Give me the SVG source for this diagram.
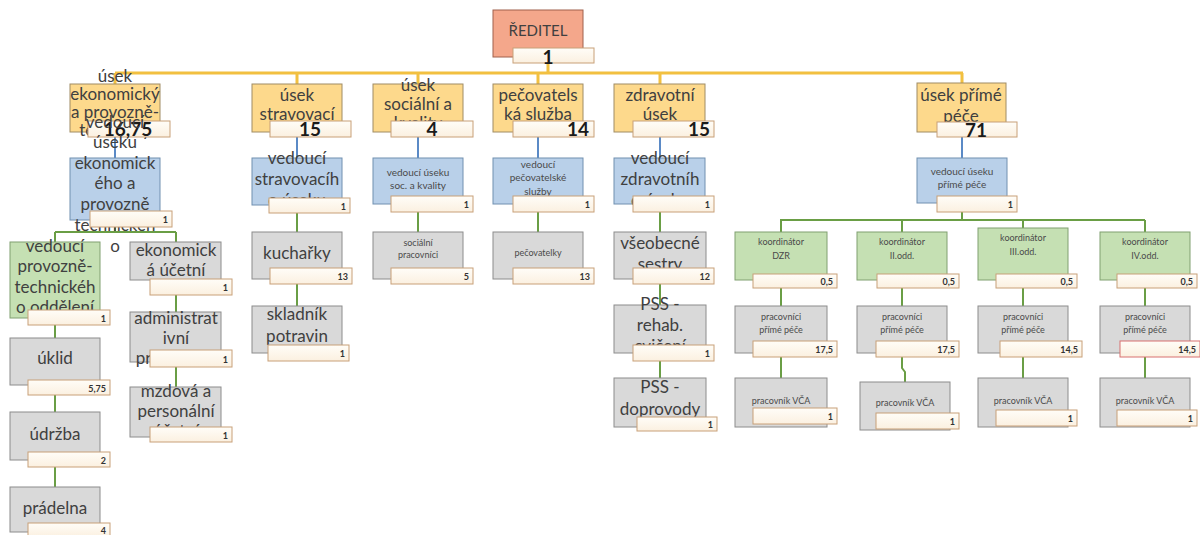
<svg xmlns="http://www.w3.org/2000/svg" width="1200" height="535" viewBox="0 0 1200 535">
<defs>
<linearGradient id="cg" x1="0" y1="0" x2="0" y2="1">
<stop offset="0" stop-color="#fffdf8"/>
<stop offset="1" stop-color="#fbf0e0"/>
</linearGradient>
<style>
.y{fill:#fdd98c;stroke:#a08c64;stroke-width:1}
.r{fill:#f4a78b;stroke:#a0604c;stroke-width:1}
.b{fill:#b9d0e9;stroke:#7090b0;stroke-width:1}
.g{fill:#c5e0b3;stroke:#80a070;stroke-width:1}
.n{fill:#d9d9d9;stroke:#8c8c8c;stroke-width:1}
.c{fill:url(#cg);stroke:#c8a078;stroke-width:1}
text{font-family:Lato,"DejaVu Sans",sans-serif;fill:#404040;text-anchor:middle}
.t{font-size:17px}
.s{font-size:10px;fill:#4a4a4a}
.num{font-size:19px;font-weight:bold;fill:#1a1a1a}
.cn{font-size:9px;font-weight:bold;text-anchor:end;fill:#333}
.gold{stroke:#f2c040;stroke-width:3;fill:none}
.blue{stroke:#5b8ac6;stroke-width:2;fill:none}
.green{stroke:#6a9e45;stroke-width:2;fill:none}
</style>
</defs>
<rect width="1200" height="535" fill="#ffffff"/>

<g id="connectors">
<path class="gold" d="M548 63V73M115 73H963M115 73V84M297 73V84M418 73V84M538 73V84M660 73V84M962 73V84"/>
<path class="blue" d="M115 137V158M297 137V158M418 137V158M538 137V158M660 137V158M962 137V158"/>
<path class="green" d="M115 227V232M55 232H176M55 232V242M176 232V242M55 325V338M55 395V412M55 467V487M176 295V312M176 367V387"/>
<path class="green" d="M297 213V232M297 284V306M418 212V232M538 212V232M660 212V232M660 284V305M660 361V378"/>
<path class="green" d="M962 212V220M780 220H1145M781 220V232M902 220V232M1023 220V228M1145 220V232"/>
<path class="green" d="M781 288V306M902 288V306M1023 288V306M1145 288V306"/>
<path class="green" d="M781 357V378M902 357V368L905 372V382M1023 357V378M1145 357V378"/>
</g>

<g id="reditel">
<rect class="r" x="493" y="10" width="90" height="47"/>
<text class="t" x="538" y="36" style="font-size:15px">ŘEDITEL</text>
<rect class="c" x="513" y="48" width="81" height="15"/>
<text class="num" x="548" y="64">1</text>
</g>

<g id="usek-ekonomicky">
<rect class="y" x="70" y="84" width="90" height="48"/>
<text class="t" x="115" y="82">úsek</text>
<text class="t" x="115" y="100">ekonomický</text>
<text class="t" x="115" y="118">a provozně-</text>
<text class="t" x="115" y="136">technický</text>
<rect class="c" x="88" y="121" width="82" height="16"/>
<text class="num" x="128" y="136">16,75</text>
</g>
<g id="vedouci-ekonomicky">
<rect class="b" x="70" y="158" width="90" height="62"/>
<text class="t" x="115" y="128">vedoucí</text>
<text class="t" x="115" y="148">úseku</text>
<text class="t" x="115" y="169">ekonomick</text>
<text class="t" x="115" y="189">ého a</text>
<text class="t" x="115" y="210">provozně</text>
<text class="t" x="115" y="231">technickéh</text>
<text class="t" x="115" y="252">o</text>
<rect class="c" x="90" y="211" width="82" height="16"/>
<text class="cn" x="168" y="223">1</text>
</g>
<g id="vedouci-provozne-technickeho">
<rect class="g" x="10" y="242" width="90" height="76"/>
<text class="t" x="55" y="252">vedoucí</text>
<text class="t" x="55" y="272">provozně-</text>
<text class="t" x="55" y="293">technickéh</text>
<text class="t" x="55" y="313">o oddělení</text>
<rect class="c" x="28" y="310" width="82" height="15"/>
<text class="cn" x="106" y="322">1</text>
</g>
<g id="uklid">
<rect class="n" x="10" y="338" width="90" height="47"/>
<text class="t" x="55" y="364">úklid</text>
<rect class="c" x="28" y="380" width="82" height="15"/>
<text class="cn" x="106" y="392">5,75</text>
</g>
<g id="udrzba">
<rect class="n" x="10" y="412" width="90" height="48"/>
<text class="t" x="55" y="440">údržba</text>
<rect class="c" x="28" y="452" width="82" height="15"/>
<text class="cn" x="106" y="464">2</text>
</g>
<g id="pradelna">
<rect class="n" x="10" y="487" width="90" height="45"/>
<text class="t" x="55" y="514">prádelna</text>
<rect class="c" x="28" y="523" width="82" height="14"/>
<text class="cn" x="106" y="534">4</text>
</g>
<g id="ekonomicka-ucetni">
<rect class="n" x="130" y="242" width="91" height="38"/>
<text class="t" x="176" y="256">ekonomick</text>
<text class="t" x="176" y="276">á účetní</text>
<rect class="c" x="150" y="279" width="82" height="16"/>
<text class="cn" x="228" y="291">1</text>
</g>
<g id="administrativni-pracovnice">
<rect class="n" x="130" y="312" width="91" height="50"/>
<text class="t" x="176" y="324">administrat</text>
<text class="t" x="176" y="344">ivní</text>
<text class="t" x="176" y="364">pracovnice</text>
<rect class="c" x="150" y="350" width="82" height="17"/>
<text class="cn" x="228" y="363">1</text>
</g>
<g id="mzdova-personalni">
<rect class="n" x="130" y="387" width="91" height="50"/>
<text class="t" x="176" y="397">mzdová a</text>
<text class="t" x="176" y="417">personální</text>
<text class="t" x="176" y="437">účetní</text>
<rect class="c" x="150" y="427" width="82" height="15"/>
<text class="cn" x="228" y="439">1</text>
</g>

<g id="usek-stravovaci">
<rect class="y" x="252" y="84" width="90" height="48"/>
<text class="t" x="297" y="101">úsek</text>
<text class="t" x="297" y="120">stravovací</text>
<rect class="c" x="270" y="121" width="81" height="16"/>
<text class="num" x="310" y="136">15</text>
</g>
<g id="vedouci-stravovaciho">
<rect class="b" x="252" y="158" width="90" height="47"/>
<text class="t" x="297" y="164">vedoucí</text>
<text class="t" x="297" y="185">stravovacíh</text>
<text class="t" x="297" y="206">o úseku</text>
<rect class="c" x="269" y="198" width="81" height="15"/>
<text class="cn" x="346" y="210">1</text>
</g>
<g id="kucharky">
<rect class="n" x="252" y="232" width="90" height="47"/>
<text class="t" x="297" y="259">kuchařky</text>
<rect class="c" x="270" y="268" width="82" height="16"/>
<text class="cn" x="348" y="280">13</text>
</g>
<g id="skladnik">
<rect class="n" x="252" y="306" width="90" height="47"/>
<text class="t" x="297" y="320">skladník</text>
<text class="t" x="297" y="342">potravin</text>
<rect class="c" x="268" y="345" width="81" height="16"/>
<text class="cn" x="345" y="357">1</text>
</g>

<g id="usek-socialni">
<rect class="y" x="373" y="84" width="90" height="48"/>
<text class="t" x="418" y="91">úsek</text>
<text class="t" x="418" y="110">sociální a</text>
<text class="t" x="418" y="129">kvality</text>
<rect class="c" x="391" y="121" width="82" height="16"/>
<text class="num" x="432" y="136">4</text>
</g>
<g id="vedouci-socialni">
<rect class="b" x="373" y="158" width="90" height="46"/>
<text class="s" x="418" y="176">vedoucí úseku</text>
<text class="s" x="418" y="189">soc. a kvality</text>
<rect class="c" x="391" y="196" width="82" height="16"/>
<text class="cn" x="469" y="208">1</text>
</g>
<g id="socialni-pracovnici">
<rect class="n" x="373" y="232" width="90" height="47"/>
<text class="s" x="418" y="246" style="font-size:9px">sociální</text>
<text class="s" x="418" y="258" style="font-size:9px">pracovníci</text>
<rect class="c" x="391" y="268" width="82" height="16"/>
<text class="cn" x="469" y="280">5</text>
</g>

<g id="pecovatelska-sluzba">
<rect class="y" x="493" y="84" width="90" height="48"/>
<text class="t" x="538" y="101">pečovatels</text>
<text class="t" x="538" y="120">ká služba</text>
<rect class="c" x="513" y="121" width="81" height="16"/>
<text class="num" x="578" y="136">14</text>
</g>
<g id="vedouci-pecovatelske">
<rect class="b" x="493" y="158" width="90" height="46"/>
<text class="s" x="538" y="168">vedoucí</text>
<text class="s" x="538" y="181">pečovatelské</text>
<text class="s" x="538" y="195">služby</text>
<rect class="c" x="513" y="196" width="81" height="16"/>
<text class="cn" x="590" y="208">1</text>
</g>
<g id="pecovatelky">
<rect class="n" x="493" y="232" width="90" height="47"/>
<text class="s" x="538" y="256" style="font-size:9px">pečovatelky</text>
<rect class="c" x="513" y="268" width="81" height="16"/>
<text class="cn" x="590" y="280">13</text>
</g>

<g id="zdravotni-usek">
<rect class="y" x="614" y="84" width="91" height="48"/>
<text class="t" x="660" y="101">zdravotní</text>
<text class="t" x="660" y="120">úsek</text>
<rect class="c" x="633" y="121" width="81" height="16"/>
<text class="num" x="699" y="136">15</text>
</g>
<g id="vedouci-zdravotniho">
<rect class="b" x="614" y="158" width="91" height="46"/>
<text class="t" x="660" y="164">vedoucí</text>
<text class="t" x="660" y="185">zdravotníh</text>
<text class="t" x="660" y="206">o úseku</text>
<rect class="c" x="633" y="196" width="81" height="16"/>
<text class="cn" x="710" y="208">1</text>
</g>
<g id="vseobecne-sestry">
<rect class="n" x="614" y="232" width="92" height="47"/>
<text class="t" x="660" y="249">všeobecné</text>
<text class="t" x="660" y="270">sestry</text>
<rect class="c" x="633" y="268" width="81" height="16"/>
<text class="cn" x="710" y="280">12</text>
</g>
<g id="pss-rehab">
<rect class="n" x="614" y="305" width="92" height="48"/>
<text class="t" x="660" y="310">PSS -</text>
<text class="t" x="660" y="331">rehab.</text>
<text class="t" x="660" y="352">cvičení</text>
<rect class="c" x="633" y="345" width="81" height="16"/>
<text class="cn" x="710" y="357">1</text>
</g>
<g id="pss-doprovody">
<rect class="n" x="614" y="378" width="92" height="49"/>
<text class="t" x="660" y="393">PSS -</text>
<text class="t" x="660" y="415">doprovody</text>
<rect class="c" x="637" y="417" width="80" height="14"/>
<text class="cn" x="713" y="428">1</text>
</g>

<g id="usek-prime-pece">
<rect class="y" x="917" y="83" width="89" height="49"/>
<text class="t" x="961" y="101">úsek přímé</text>
<text class="t" x="961" y="122">péče</text>
<rect class="c" x="937" y="122" width="80" height="15"/>
<text class="num" x="976" y="137">71</text>
</g>
<g id="vedouci-prime-pece">
<rect class="b" x="917" y="158" width="90" height="45"/>
<text class="s" x="962" y="175">vedoucí úseku</text>
<text class="s" x="962" y="188">přímé péče</text>
<rect class="c" x="937" y="196" width="80" height="16"/>
<text class="cn" x="1013" y="208">1</text>
</g>

<g id="koordinator-dzr">
<rect class="g" x="735" y="232" width="92" height="48"/>
<text class="s" x="781" y="245" style="font-size:9px">koordinátor</text>
<text class="s" x="781" y="259" style="font-size:9px">DZR</text>
<rect class="c" x="753" y="274" width="84" height="14"/>
<text class="cn" x="833" y="285">0,5</text>
</g>
<g id="koordinator-ii">
<rect class="g" x="857" y="232" width="90" height="48"/>
<text class="s" x="902" y="245" style="font-size:9px">koordinátor</text>
<text class="s" x="902" y="259" style="font-size:9px">II.odd.</text>
<rect class="c" x="877" y="274" width="82" height="14"/>
<text class="cn" x="955" y="285">0,5</text>
</g>
<g id="koordinator-iii">
<rect class="g" x="978" y="228" width="90" height="52"/>
<text class="s" x="1023" y="241" style="font-size:9px">koordinátor</text>
<text class="s" x="1023" y="255" style="font-size:9px">III.odd.</text>
<rect class="c" x="996" y="274" width="81" height="14"/>
<text class="cn" x="1073" y="285">0,5</text>
</g>
<g id="koordinator-iv">
<rect class="g" x="1100" y="232" width="90" height="48"/>
<text class="s" x="1145" y="245" style="font-size:9px">koordinátor</text>
<text class="s" x="1145" y="259" style="font-size:9px">IV.odd.</text>
<rect class="c" x="1117" y="274" width="80" height="14"/>
<text class="cn" x="1193" y="285">0,5</text>
</g>

<g id="pracovnici-dzr">
<rect class="n" x="735" y="306" width="92" height="47"/>
<text class="s" x="781" y="320" style="font-size:9px">pracovníci</text>
<text class="s" x="781" y="333" style="font-size:9px">přímé péče</text>
<rect class="c" x="753" y="341" width="84" height="16"/>
<text class="cn" x="833" y="353">17,5</text>
</g>
<g id="pracovnici-ii">
<rect class="n" x="857" y="306" width="90" height="47"/>
<text class="s" x="902" y="320" style="font-size:9px">pracovníci</text>
<text class="s" x="902" y="333" style="font-size:9px">přímé péče</text>
<rect class="c" x="876" y="341" width="83" height="16"/>
<text class="cn" x="955" y="353">17,5</text>
</g>
<g id="pracovnici-iii">
<rect class="n" x="978" y="306" width="90" height="47"/>
<text class="s" x="1023" y="320" style="font-size:9px">pracovníci</text>
<text class="s" x="1023" y="333" style="font-size:9px">přímé péče</text>
<rect class="c" x="1000" y="341" width="82" height="16"/>
<text class="cn" x="1078" y="353">14,5</text>
</g>
<g id="pracovnici-iv">
<rect class="n" x="1100" y="306" width="90" height="47"/>
<text class="s" x="1145" y="320" style="font-size:9px">pracovníci</text>
<text class="s" x="1145" y="333" style="font-size:9px">přímé péče</text>
<rect class="c" x="1120" y="341" width="80" height="16" style="stroke:#d87070"/>
<text class="cn" x="1196" y="353">14,5</text>
</g>

<g id="vca-dzr">
<rect class="n" x="735" y="378" width="92" height="49"/>
<text class="s" x="781" y="404" style="font-size:9px">pracovník  VČA</text>
<rect class="c" x="753" y="408" width="84" height="16"/>
<text class="cn" x="833" y="420">1</text>
</g>
<g id="vca-ii">
<rect class="n" x="860" y="382" width="90" height="48"/>
<text class="s" x="905" y="406" style="font-size:9px">pracovník  VČA</text>
<rect class="c" x="876" y="413" width="83" height="16"/>
<text class="cn" x="955" y="425">1</text>
</g>
<g id="vca-iii">
<rect class="n" x="978" y="378" width="90" height="49"/>
<text class="s" x="1023" y="404" style="font-size:9px">pracovník  VČA</text>
<rect class="c" x="996" y="410" width="81" height="16"/>
<text class="cn" x="1073" y="422">1</text>
</g>
<g id="vca-iv">
<rect class="n" x="1100" y="378" width="90" height="49"/>
<text class="s" x="1145" y="404" style="font-size:9px">pracovník  VČA</text>
<rect class="c" x="1117" y="410" width="80" height="16"/>
<text class="cn" x="1193" y="422">1</text>
</g>
</svg>
